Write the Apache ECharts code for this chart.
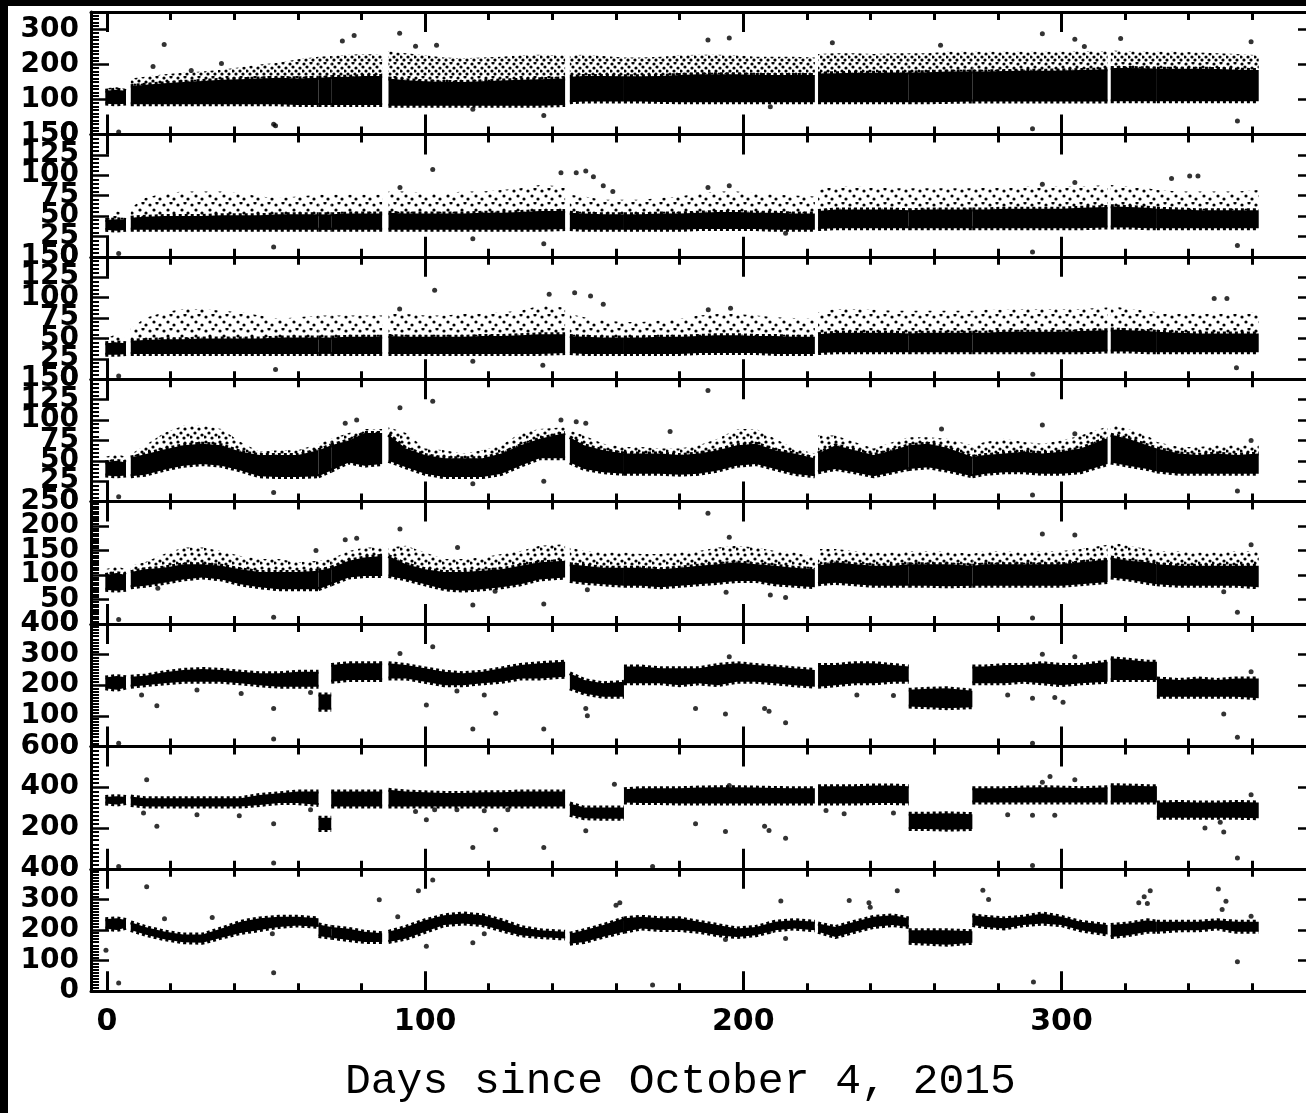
<!DOCTYPE html>
<html>
<head>
<meta charset="utf-8">
<title>Days since October 4, 2015</title>
<script src="https://cdn.jsdelivr.net/npm/echarts@6/dist/echarts.min.js"></script>
<style>
  html, body { margin: 0; padding: 0; background: #000; width: 1306px; height: 1113px; overflow: hidden; }
  #chart { position: absolute; left: 8px; top: 6px; width: 1298px; height: 1107px; background: #fff; }
</style>
</head>
<body>
<div id="chart"></div>
<script>
// time segments in days; breaks are data gaps or level jumps
const segDays = [
  [-0.5, 3, 6],
  [7.5, 12, 18, 24, 30, 36, 42, 48, 54, 60, 66.5],
  [66.5, 70.5],
  [70.5, 76, 81, 86.5],
  [88.5, 94, 100, 106, 112, 118, 124, 130, 136, 144],
  [145.5, 150, 156, 162.5],
  [162.5, 168, 174, 180, 186, 192, 198, 204, 210, 216, 222.5],
  [223.5, 229, 235, 241, 247, 252],
  [252, 258, 264, 272],
  [272, 276, 282, 288, 294, 300, 306, 314.5],
  [315.5, 321, 327, 330],
  [330, 337, 343, 349, 355, 362]
]

const yMax = [350, 150, 150, 150, 250, 400, 600, 400]
const yStep = [100, 25, 25, 25, 50, 100, 200, 100]
const yMinor = [10, 5, 5, 5, 10, 10, 10, 10]
const xMajor = [0, 100, 200, 300]
const xMinor = [20, 40, 60, 80, 120, 140, 160, 180, 220, 240, 260, 280, 320, 340, 360]
const xLabels = [0, 100, 200, 300]

// per panel: lower / upper edge of the dense core, top of the sparse scatter
const p1Lo = [[88, 86, 88], [86, 86, 86, 86, 86, 86, 86, 86, 86, 84, 84], [84, 84], [84, 84, 84, 84],
  [82, 82, 82, 82, 82, 82, 82, 82, 82, 84], [92, 94, 94, 94], [94, 94, 93, 92, 92, 92, 92, 92, 92, 92, 92],
  [92, 92, 92, 92, 92, 92], [92, 92, 93, 94], [94, 94, 94, 94, 94, 94, 94, 94], [95, 95, 95, 95], [95, 95, 95, 95, 95, 95]]
const p1Hi = [[125, 128, 124], [138, 142, 146, 150, 153, 156, 158, 160, 162, 160, 162], [162, 164], [164, 165, 167, 167],
  [160, 155, 152, 150, 150, 152, 154, 156, 158, 160], [165, 167, 167, 166], [166, 166, 167, 170, 172, 172, 172, 170, 170, 170, 170],
  [174, 175, 176, 176, 177, 177], [177, 178, 180, 180], [180, 180, 181, 182, 182, 183, 184, 186], [190, 190, 189, 188], [188, 188, 188, 187, 185, 184]]
const p1Top = [[132, 135, 130], [160, 165, 172, 176, 180, 185, 192, 200, 205, 215, 222], [222, 224], [224, 228, 230, 228],
  [238, 232, 226, 220, 218, 220, 222, 226, 228, 226], [226, 228, 224, 220], [220, 220, 222, 226, 228, 228, 226, 222, 222, 222, 220],
  [230, 232, 232, 230, 232, 232], [232, 232, 236, 236], [236, 236, 236, 236, 236, 236, 238, 238], [240, 238, 236, 236], [236, 236, 234, 232, 230, 226]]

const p2Lo = [[33, 32, 33], [33, 33, 33, 33, 33, 33, 33, 33, 33, 33, 33], [33, 33], [33, 33, 33, 33],
  [33, 33, 33, 33, 33, 33, 33, 33, 33, 34], [34, 33, 33, 33], [33, 33, 33, 33, 34, 34, 34, 34, 33, 33, 33],
  [34, 35, 35, 35, 35, 35], [35, 35, 35, 35], [35, 35, 35, 35, 35, 35, 35, 36], [36, 36, 35, 35], [35, 35, 35, 35, 35, 35]]
const p2Hi = [[45, 46, 45], [48, 49, 50, 50, 50, 51, 51, 51, 52, 52, 52], [52, 52], [52, 53, 53, 53],
  [54, 53, 53, 53, 53, 54, 54, 55, 56, 56], [54, 53, 52, 52], [52, 52, 53, 53, 54, 55, 55, 54, 54, 53, 53],
  [56, 58, 58, 58, 58, 57], [57, 58, 58, 58], [58, 58, 59, 59, 59, 59, 60, 61], [62, 61, 60, 59], [59, 58, 57, 57, 57, 57]]
const p2Top = [[52, 56, 52], [60, 72, 78, 80, 80, 80, 78, 74, 72, 74, 76], [76, 76], [76, 76, 76, 76],
  [80, 80, 78, 78, 80, 80, 82, 84, 88, 86], [76, 74, 70, 70], [70, 70, 72, 74, 78, 80, 80, 78, 76, 75, 74],
  [82, 86, 86, 85, 84, 84], [84, 84, 84, 84], [84, 85, 85, 86, 86, 86, 86, 88], [88, 86, 84, 82], [82, 80, 80, 80, 80, 82]]

const p3Lo = [[30, 30, 31], [31, 31, 31, 31, 31, 31, 31, 31, 31, 31, 31], [31, 31], [31, 31, 31, 31],
  [31, 31, 31, 31, 31, 31, 31, 31, 31, 32], [32, 31, 31, 31], [31, 31, 31, 31, 32, 32, 32, 32, 31, 31, 31],
  [32, 33, 33, 33, 33, 33], [33, 33, 33, 33], [33, 33, 33, 33, 33, 33, 33, 34], [34, 34, 33, 33], [33, 33, 33, 33, 33, 33]]
const p3Hi = [[44, 45, 44], [47, 48, 49, 49, 50, 50, 50, 50, 51, 51, 51], [51, 51], [51, 52, 52, 52],
  [53, 52, 52, 52, 52, 53, 53, 54, 55, 55], [53, 52, 51, 51], [51, 51, 52, 52, 53, 54, 54, 53, 53, 52, 52],
  [55, 57, 57, 57, 57, 56], [56, 57, 57, 57], [57, 57, 58, 58, 58, 58, 59, 60], [61, 60, 59, 58], [58, 57, 56, 56, 56, 56]]
const p3Top = [[50, 55, 50], [62, 75, 82, 86, 86, 84, 82, 78, 74, 76, 78], [78, 78], [78, 78, 78, 78],
  [82, 80, 78, 78, 80, 80, 82, 84, 90, 88], [80, 76, 72, 70], [70, 70, 72, 74, 78, 80, 80, 78, 76, 75, 74],
  [82, 86, 86, 85, 84, 84], [84, 84, 84, 84], [84, 85, 85, 86, 86, 86, 86, 88], [90, 86, 84, 82], [82, 80, 80, 80, 80, 82]]

const p4Lo = [[32, 31, 32], [31, 33, 39, 44, 46, 44, 38, 31, 30, 30, 31], [31, 38], [38, 48, 44, 46],
  [50, 42, 34, 30, 30, 30, 34, 44, 53, 53], [48, 40, 36, 34], [34, 34, 34, 33, 34, 38, 44, 46, 40, 34, 31],
  [36, 40, 36, 31, 36, 40], [40, 42, 38, 31], [31, 34, 36, 36, 34, 34, 36, 46], [48, 44, 40, 37], [37, 34, 34, 34, 34, 34]]
const p4Hi = [[48, 50, 48], [54, 58, 64, 69, 71, 69, 61, 57, 57, 57, 63], [63, 69], [69, 75, 84, 84],
  [82, 65, 57, 53, 53, 53, 59, 69, 77, 84], [79, 69, 63, 59], [59, 59, 59, 57, 59, 63, 69, 71, 63, 59, 53],
  [59, 69, 63, 57, 63, 69], [69, 71, 66, 55], [55, 57, 59, 61, 59, 61, 65, 78], [82, 77, 69, 65], [65, 59, 57, 59, 57, 59]]
const p4Top = [[55, 58, 55], [58, 69, 84, 93, 93, 89, 73, 61, 63, 63, 71], [71, 77], [77, 84, 89, 89],
  [91, 84, 65, 63, 59, 63, 69, 84, 89, 91], [87, 81, 71, 67], [67, 67, 65, 65, 69, 77, 89, 89, 77, 65, 59],
  [81, 81, 73, 65, 73, 79], [79, 79, 77, 69], [69, 73, 77, 73, 71, 75, 81, 92], [95, 89, 81, 73], [73, 67, 67, 69, 69, 69]]

const p5Lo = [[70, 68, 70], [75, 78, 84, 91, 95, 91, 81, 75, 71, 71, 71], [71, 81], [81, 95, 98, 98],
  [98, 91, 81, 71, 68, 71, 75, 81, 91, 95], [88, 84, 81, 78], [78, 78, 75, 78, 81, 84, 88, 88, 81, 78, 75],
  [81, 84, 81, 78, 78, 78], [78, 78, 77, 78], [78, 78, 78, 78, 78, 78, 81, 86], [95, 91, 84, 81], [81, 78, 78, 78, 78, 75]]
const p5Hi = [[100, 104, 100], [106, 112, 115, 122, 122, 119, 112, 106, 106, 106, 109], [109, 115], [115, 129, 136, 139],
  [139, 122, 112, 106, 106, 109, 112, 119, 126, 129], [122, 119, 115, 115], [115, 115, 112, 115, 119, 122, 126, 122, 119, 115, 112],
  [119, 126, 122, 119, 119, 122], [122, 122, 122, 119], [119, 122, 122, 122, 122, 122, 126, 131], [136, 129, 126, 122], [122, 119, 119, 119, 119, 119]]
const p5Top = [[112, 118, 112], [119, 126, 143, 156, 156, 149, 139, 133, 133, 126, 129], [129, 133], [133, 149, 156, 156],
  [156, 160, 146, 133, 133, 136, 143, 149, 160, 163], [156, 149, 146, 146], [146, 143, 143, 146, 149, 156, 160, 156, 149, 146, 136],
  [153, 153, 149, 146, 146, 149], [149, 149, 148, 143], [143, 149, 149, 146, 149, 149, 153, 162], [167, 160, 153, 149], [149, 149, 146, 146, 149, 149]]

const p6Lo = [[190, 185, 192], [195, 200, 206, 211, 211, 211, 206, 200, 195, 195, 195], [120, 120], [211, 217, 217, 217],
  [222, 222, 211, 200, 200, 206, 211, 222, 222, 228], [190, 173, 162, 162], [206, 206, 206, 200, 206, 200, 211, 211, 206, 200, 195],
  [195, 200, 206, 206, 211, 211], [130, 128, 125, 128], [206, 206, 206, 211, 206, 200, 206, 211], [217, 217, 217, 217], [162, 162, 162, 162, 162, 157]]
const p6Hi = [[225, 230, 226], [228, 231, 242, 250, 253, 250, 244, 239, 239, 244, 244], [170, 170], [266, 272, 272, 272],
  [272, 266, 255, 244, 239, 244, 255, 266, 272, 277], [239, 217, 206, 211], [261, 261, 255, 255, 255, 266, 272, 266, 261, 255, 250],
  [266, 266, 272, 272, 266, 261], [185, 188, 190, 182], [261, 261, 266, 266, 272, 266, 266, 277], [288, 283, 277, 277], [222, 217, 222, 217, 222, 222]]

const p7Lo = [[320, 315, 322], [313, 305, 305, 305, 305, 305, 305, 313, 322, 322, 313], [190, 190], [305, 305, 305, 305],
  [305, 305, 305, 305, 305, 305, 305, 305, 305, 305], [265, 248, 245, 245], [325, 322, 322, 320, 320, 320, 320, 320, 320, 320, 320],
  [320, 320, 320, 322, 322, 320], [195, 195, 192, 195], [325, 325, 325, 325, 325, 325, 325, 325], [325, 325, 325, 325], [250, 250, 250, 250, 250, 248]]
const p7Hi = [[352, 356, 352], [354, 346, 346, 346, 346, 346, 346, 362, 370, 379, 379], [250, 250], [379, 379, 379, 379],
  [387, 379, 375, 372, 372, 375, 375, 379, 379, 379], [320, 300, 300, 300], [390, 395, 395, 395, 398, 400, 400, 398, 396, 395, 395],
  [405, 405, 405, 408, 408, 405], [270, 270, 272, 268], [395, 395, 395, 398, 400, 398, 395, 400], [410, 408, 405, 405], [325, 328, 325, 325, 328, 325]]

const p8Lo = [[205, 200, 207], [200, 185, 170, 160, 158, 175, 190, 200, 210, 215, 210], [180, 175], [175, 167, 161, 161],
  [161, 172, 194, 216, 221, 216, 199, 183, 177, 172], [155, 161, 178, 194], [194, 205, 200, 200, 194, 183, 177, 183, 199, 205, 199],
  [194, 177, 194, 210, 216, 210], [158, 155, 152, 158], [216, 210, 205, 216, 221, 216, 199, 185], [177, 183, 194, 194], [194, 199, 199, 205, 194, 194]]
const p8Hi = [[235, 238, 233], [225, 210, 195, 185, 185, 205, 227, 238, 243, 243, 238], [218, 210], [210, 204, 194, 189],
  [194, 210, 232, 248, 254, 248, 232, 210, 199, 194], [188, 199, 216, 238], [238, 243, 238, 238, 227, 216, 205, 210, 227, 232, 227],
  [221, 210, 227, 243, 248, 238], [199, 199, 199, 196], [248, 243, 238, 243, 254, 243, 227, 216], [216, 221, 232, 227], [227, 227, 227, 232, 227, 227]]

// isolated points [day, value]
const p1Out = [[18, 257], [14.5, 194], [26.5, 183], [36, 203], [52.4, 29], [53, 25], [74, 267], [77.7, 283], [92, 289], [97, 252],
  [103.6, 255], [115, 72], [137.3, 54], [3.7, 7], [188.9, 270], [195.6, 276], [228, 262], [262, 255], [294, 288], [304.2, 272],
  [307.2, 251], [318.6, 274], [359.6, 265], [208.5, 79], [290.9, 16], [355.3, 38]]
const p2Out = [[52.4, 12], [102.4, 107], [92.1, 85], [115, 22], [137.3, 16], [142.7, 103], [147.5, 103], [150.5, 105], [152.9, 98],
  [156, 87], [159, 80], [3.7, 4], [188.9, 85], [195.6, 87], [294, 89], [304.2, 91], [334.6, 96], [340.3, 99], [342.9, 99],
  [290.9, 6], [355.3, 14], [213.3, 29]]
const p3Out = [[103, 109], [139, 104], [147, 106], [152, 102], [156, 92], [348, 99], [352, 99], [53, 12], [291, 6], [355, 14],
  [92, 86], [189, 85], [196, 87], [3.7, 4], [115, 22], [137, 17]]
const p4Out = [[102.4, 123], [92.1, 115], [74.9, 96], [78.5, 100], [52.4, 11], [115, 22], [137.3, 25], [142.7, 100], [147.5, 98],
  [150.5, 96], [177, 86], [3.7, 6], [188.9, 136], [294, 94], [304.2, 83], [290.9, 8], [355.3, 13], [262.3, 89], [359.6, 75]]
const p5Out = [[92.1, 194], [74.9, 172], [78.5, 175], [52.4, 14], [115, 39], [137.3, 41], [16, 73], [122, 67], [151, 70], [3.7, 9],
  [65.7, 150], [110.2, 156], [188.9, 226], [195.6, 177], [294, 184], [304.2, 182], [359.6, 162], [355.3, 24], [290.9, 12],
  [194.6, 65], [208.5, 59], [213.3, 54], [351, 66]]
const p6Out = [[102.4, 326], [92.1, 304], [15.7, 133], [52.4, 124], [52.4, 24], [122.2, 108], [115, 57], [137.3, 57], [100.4, 135],
  [150.5, 124], [151, 100], [3.7, 10], [10.9, 168], [28.3, 184], [42.2, 173], [64, 176], [110, 181], [118.6, 168], [195.6, 293],
  [294, 301], [304.2, 293], [185, 124], [194.4, 106], [206.7, 124], [208.1, 115], [213.3, 77], [351, 106], [355.3, 30], [290.9, 10],
  [359.6, 244], [235.7, 168], [247.2, 166], [283.1, 168], [290.9, 157], [297.9, 160], [300.5, 144]]
const p7Out = [[12.5, 436], [159.5, 415], [15.7, 208], [52.4, 221], [52.4, 28], [122.2, 191], [115, 105], [137.3, 105], [100.4, 240],
  [150.5, 186], [3.7, 11], [11.5, 273], [28.3, 265], [41.6, 260], [64, 289], [97, 281], [103, 289], [110, 290], [118.6, 285],
  [126, 290], [171.5, 11], [195.6, 408], [296.4, 452], [294, 424], [304.2, 436], [185, 221], [194.4, 183], [206.7, 208], [208.1, 188],
  [213.3, 150], [226, 286], [231.7, 270], [247.2, 273], [283.1, 265], [290.9, 262], [297.9, 262], [345.1, 200], [351, 181],
  [349.9, 228], [355.3, 53], [290.9, 16], [359.6, 363]]
const p8Out = [[12.5, 341], [102.4, 363], [97.9, 328], [85.6, 299], [18.1, 237], [33.1, 241], [52.4, 60], [-0.3, 134], [3.7, 27],
  [100.4, 147], [115, 158], [118.6, 188], [52, 188], [160, 281], [161.2, 289], [171.5, 20], [91.4, 243], [248.4, 328], [275.3, 330],
  [277.1, 300], [211.8, 295], [233.3, 296], [239.5, 289], [239.9, 274], [327.9, 328], [326, 309], [324.3, 289], [327, 287],
  [349.3, 334], [351.7, 294], [350.5, 267], [355.3, 96], [291.2, 30], [194.4, 169], [213.3, 172], [208.1, 194], [359.6, 245]]

// speckle textures for the sparse part of a band
const dotPattern = (dots) => {
  const c = document.createElement("canvas")
  c.width = 14
  c.height = 14
  const g = c.getContext("2d")
  g.fillStyle = "#000"
  dots.forEach(([x, y]) => {
    g.beginPath()
    g.arc(x, y, 1.6, 0, Math.PI * 2)
    g.fill()
  })
  return { image: c, repeat: "repeat" }
}
const denseSpeckle = dotPattern([[2, 2], [9, 1], [5, 5], [12, 6], [1, 9], [8, 9], [4, 12], [11, 12]])
const midSpeckle = dotPattern([[2, 2], [9, 3], [5, 7], [12, 9], [1, 11], [8, 12]])
const thinSpeckle = dotPattern([[2, 3], [9, 1], [6, 8], [12, 11]])

const panels = [
  { lo: p1Lo, hi: p1Hi, top: p1Top, out: p1Out, speck: denseSpeckle },
  { lo: p2Lo, hi: p2Hi, top: p2Top, out: p2Out, speck: thinSpeckle },
  { lo: p3Lo, hi: p3Hi, top: p3Top, out: p3Out, speck: thinSpeckle },
  { lo: p4Lo, hi: p4Hi, top: p4Top, out: p4Out, speck: midSpeckle },
  { lo: p5Lo, hi: p5Hi, top: p5Top, out: p5Out, speck: midSpeckle },
  { lo: p6Lo, hi: p6Hi, top: null, out: p6Out },
  { lo: p7Lo, hi: p7Hi, top: null, out: p7Out },
  { lo: p8Lo, hi: p8Hi, top: null, out: p8Out }
]

// polygon between two edges of one segment, edges roughened with a dashed stroke
const band = (lower, upper, fill, rough) => (params, api) => {
  const i = params.dataIndex
  const d = segDays[i]
  const up = d.map((x, j) => api.coord([x, upper[i][j]]))
  const dn = d.map((x, j) => api.coord([x, lower[i][j]]))
  const children = [{ type: "polygon", shape: { points: up.concat(dn.slice().reverse()) }, style: { fill: fill } }]
  if (rough) {
    const edge = { fill: null, stroke: "#000", lineWidth: 4, lineDash: [3, 3] }
    children.push({ type: "polyline", shape: { points: up }, style: edge })
    children.push({ type: "polyline", shape: { points: dn }, style: edge })
  }
  return { type: "group", children: children }
}

const LEFT = 83
const TOP = 6
const PH = 122.4
const PW = 1225
const black = "#000"
const tickFont = { color: black, fontFamily: "DejaVu Sans", fontWeight: "bold" }

const grid = []
const xAxis = []
const yAxis = []
const series = []

for (let k = 0; k < 8; k++) {
  grid.push({ left: LEFT, top: TOP + k * PH, width: PW, height: PH, outerBoundsMode: "none" })
  const last = k === 7
  const xBase = {
    type: "value", gridIndex: k, min: -5, max: 380,
    splitLine: { show: false },
    axisLine: { show: false, onZero: false },
    axisLabel: { show: false }
  }
  const frame = { show: true, onZero: false, lineStyle: { color: black, width: 3 } }
  const major = { inside: true, length: 20, customValues: xMajor, lineStyle: { color: black, width: 3 } }
  const minor = { inside: true, length: 8, customValues: xMinor, lineStyle: { color: black, width: 3 } }
  xAxis.push({
    ...xBase, position: "bottom", axisLine: frame, axisTick: major,
    axisLabel: last
      ? { show: true, customValues: xLabels, margin: 16, fontSize: 30, ...tickFont }
      : { show: false }
  })
  xAxis.push({ ...xBase, position: "bottom", axisTick: minor })
  xAxis.push({ ...xBase, position: "top", axisLine: frame, axisTick: major })
  xAxis.push({ ...xBase, position: "top", axisTick: minor })

  // labels sit closer than their height, so spread them over two left axes
  const labels = []
  for (let v = 0; v <= yMax[k]; v += yStep[k]) labels.push(v)
  const yBase = {
    type: "value", gridIndex: k, min: 0, max: yMax[k], interval: yStep[k],
    splitLine: { show: false },
    axisLine: frame,
    axisTick: { inside: true, length: 18, lineStyle: { color: black, width: 2.5 } },
    minorTick: { show: true, splitNumber: yMinor[k], length: 8, lineStyle: { color: black, width: 2 } }
  }
  const yLabel = (vals) => ({
    customValues: vals, margin: 12, fontSize: 28,
    hideOverlap: false, showMinLabel: true, showMaxLabel: true, ...tickFont
  })
  yAxis.push({ ...yBase, position: "left", axisLabel: yLabel(labels.filter((v, i) => i % 2 === 0)) })
  yAxis.push({
    ...yBase, position: "left",
    axisLine: { show: false, onZero: false }, axisTick: { show: false }, minorTick: { show: false },
    axisLabel: yLabel(labels.filter((v, i) => i % 2 === 1))
  })
  yAxis.push({ ...yBase, position: "right", axisLabel: { show: false } })

  const p = panels[k]
  const segData = segDays.map((d) => [d[0], 0])
  if (p.top) {
    series.push({
      type: "custom", xAxisIndex: 4 * k, yAxisIndex: 3 * k, silent: true,
      data: segData, renderItem: band(p.hi, p.top, p.speck, false)
    })
  }
  series.push({
    type: "custom", xAxisIndex: 4 * k, yAxisIndex: 3 * k, silent: true,
    data: segData, renderItem: band(p.lo, p.hi, black, true)
  })
  series.push({
    type: "scatter", xAxisIndex: 4 * k, yAxisIndex: 3 * k, silent: true,
    data: p.out, symbolSize: 5, itemStyle: { color: black }
  })
}

const chart = echarts.init(document.getElementById("chart"))
chart.setOption({
  animation: false,
  backgroundColor: "#fff",
  title: {
    text: "Days since October 4, 2015",
    left: 332,
    top: 1049,
    textStyle: { fontFamily: "Liberation Mono", fontSize: 43, fontWeight: "normal", color: black }
  },
  grid,
  xAxis,
  yAxis,
  series
})
</script>
</body>
</html>
